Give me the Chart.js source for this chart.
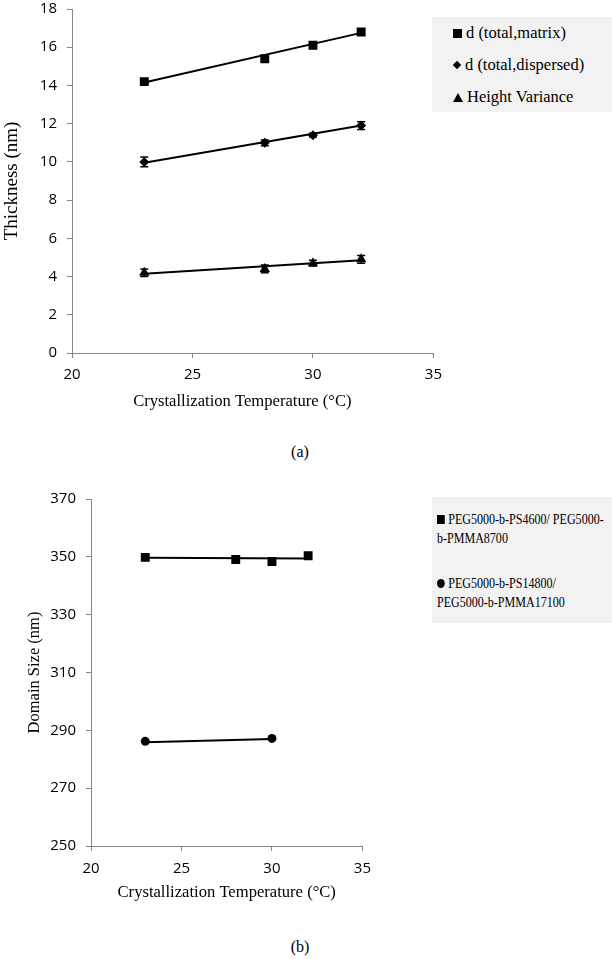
<!DOCTYPE html>
<html>
<head>
<meta charset="utf-8">
<script src="https://cdn.jsdelivr.net/npm/chart.js@4.4.1/dist/chart.umd.min.js"></script>
<style>
  body { margin: 0; background: #fff; width: 612px; height: 959px; position: relative; overflow: hidden; }
  canvas { position: absolute; left: 0; }
  #chartA { top: -10px; }
  #chartB { top: 480px; }
  .legend { position: absolute; background: #f2f2f2; font-family: "Liberation Serif", serif; color: #000; }
  .item { position: absolute; white-space: nowrap; }
  .la .item { font-size: 16.5px; line-height: 20px; }
  .lb .item { font-size: 14px; line-height: 19px; transform: scaleX(0.86); transform-origin: left center; }
  .mk { display: inline-block; background: #000; margin-right: 4px; vertical-align: middle; position: relative; top: -1px; }
  .sq { width: 9px; height: 9px; }
  .dm { width: 6px; height: 6px; transform: rotate(45deg); margin-left: 1px; margin-right: 5px; }
  .tr { width: 0; height: 0; background: none; border-left: 5px solid transparent; border-right: 5px solid transparent; border-bottom: 9px solid #000; }
  .ci { width: 9px; height: 9px; border-radius: 50%; }
  .cap { position: absolute; font-family: "Liberation Serif", serif; font-size: 16px; width: 40px; text-align: center; }
</style>
</head>
<body>
<canvas id="chartA" width="450" height="430"></canvas>
<canvas id="chartB" width="380" height="430"></canvas>

<div class="legend la" style="left:432px; top:17px; width:180px; height:95px;">
  <div class="item" style="left:21px; top:6px;"><span class="mk sq"></span>d (total,matrix)</div>
  <div class="item" style="left:21px; top:38px;"><span class="mk dm"></span>d (total,dispersed)</div>
  <div class="item" style="left:21px; top:70px;"><span class="mk tr"></span>Height Variance</div>
</div>

<div class="legend lb" style="left:432px; top:497px; width:180px; height:126px;">
  <div class="item" style="left:5px; top:13px;"><span class="mk sq"></span>PEG5000-b-PS4600/ PEG5000-<br>b-PMMA8700</div>
  <div class="item" style="left:5px; top:77px;"><span class="mk ci"></span>PEG5000-b-PS14800/<br>PEG5000-b-PMMA17100</div>
</div>

<div class="cap" style="left:280px; top:443px;">(a)</div>
<div class="cap" style="left:280px; top:938px;">(b)</div>

<script>
// (a) thickness vs crystallization temperature
const tempsA = [23, 28, 30, 32];
const matrix = [14.2, 15.4, 16.1, 16.8];
const matrixErr = [0.1, 0.15, 0.1, 0.1];
const dispersed = [10.0, 11.0, 11.4, 11.9];
const dispersedErr = [0.25, 0.15, 0.1, 0.2];
const heightVar = [4.2, 4.4, 4.7, 4.9];
const heightVarErr = [0.2, 0.2, 0.15, 0.2];
// trend lines (end points)
const trendX = [23, 32];
const matrixTrend = [14.15, 16.75];
const dispersedTrend = [9.95, 11.9];
const heightTrend = [4.15, 4.85];

// (b) domain size vs crystallization temperature
const tempsB1 = [23, 28, 30, 32];
const domain1 = [349.8, 349.1, 348.4, 350.4];
const tempsB2 = [23, 30];
const domain2 = [286.2, 287.2];
const domain1TrendX = [23, 32];
const domain1Trend = [349.7, 349.4];
const domain2TrendX = [23, 30];
const domain2Trend = [285.9, 287.0];

const tickFont = { family: "'Open Sans'", size: 15 };
const axisGray = '#868686';

function pts(xs, ys) {
    return xs.map((x, i) => ({ x: x, y: ys[i] }));
}

function markerSet(xs, ys, style, radius, errs) {
    return {
        data: pts(xs, ys),
        showLine: false,
        pointStyle: style,
        pointRadius: radius,
        pointBackgroundColor: '#000',
        pointBorderColor: '#000',
        pointBorderWidth: 0,
        errors: errs
    };
}

function trendSet(xs, ys) {
    return {
        data: pts(xs, ys),
        showLine: true,
        borderColor: '#000',
        borderWidth: 2,
        pointRadius: 0
    };
}

// draws vertical error bars with caps using the chart scales
const errorBars = {
    id: 'errorBars',
    afterDatasetsDraw(chart) {
        const ctx = chart.ctx;
        const ys = chart.scales.y;
        chart.data.datasets.forEach((ds, di) => {
            if (!ds.errors) return;
            const meta = chart.getDatasetMeta(di);
            ctx.save();
            ctx.strokeStyle = '#000';
            ctx.lineWidth = 1.5;
            meta.data.forEach((pt, i) => {
                const e = ds.errors[i];
                const v = ds.data[i].y;
                const top = ys.getPixelForValue(v + e);
                const bot = ys.getPixelForValue(v - e);
                ctx.beginPath();
                ctx.moveTo(pt.x, top); ctx.lineTo(pt.x, bot);
                ctx.moveTo(pt.x - 4, top); ctx.lineTo(pt.x + 4, top);
                ctx.moveTo(pt.x - 4, bot); ctx.lineTo(pt.x + 4, bot);
                ctx.stroke();
            });
            ctx.restore();
        });
    }
};

function makeOptions(o) {
    return {
        responsive: false,
        animation: false,
        layout: { padding: { top: o.padTop, right: o.padRight, left: 0, bottom: 0 } },
        plugins: { legend: { display: false }, tooltip: { enabled: false } },
        scales: {
            x: {
                type: 'linear', min: 20, max: 35,
                afterFit: s => { s.height = o.xHeight; },
                ticks: { stepSize: 5, font: tickFont, color: '#000', padding: o.xTickPad },
                grid: { drawOnChartArea: false, drawTicks: true, tickLength: 5, color: axisGray },
                border: { color: axisGray, width: 1 },
                title: {
                    display: true, text: o.xTitle, color: '#000',
                    font: { family: "'Liberation Serif'", size: 16.6 },
                    padding: { top: 0, bottom: o.xTitlePad }
                }
            },
            y: {
                type: 'linear', min: o.yMin, max: o.yMax,
                afterFit: s => { s.width = o.yWidth; },
                ticks: { stepSize: o.yStep, font: tickFont, color: '#000', padding: 10 },
                grid: { drawOnChartArea: false, drawTicks: true, tickLength: 5, color: axisGray },
                border: { color: axisGray, width: 1 },
                title: {
                    display: true, text: o.yTitle, color: '#000',
                    font: { family: "'Liberation Serif'", size: o.yTitleSize },
                    padding: { top: o.yTitlePad, bottom: 0 }
                }
            }
        }
    };
}

new Chart(document.getElementById('chartA'), {
    type: 'scatter',
    data: {
        datasets: [
            trendSet(trendX, matrixTrend),
            trendSet(trendX, dispersedTrend),
            trendSet(trendX, heightTrend),
            markerSet(tempsA, matrix, 'rect', 6.3, matrixErr),
            markerSet(tempsA, dispersed, 'rectRot', 5, dispersedErr),
            markerSet(tempsA, heightVar, 'triangle', 6, heightVarErr)
        ]
    },
    options: makeOptions({
        padTop: 17, padRight: 13, xHeight: 67, xTickPad: 8, xTitlePad: 8,
        // trailing spaces nudge the centred title a little to the left, as in the original
        xTitle: 'Crystallization Temperature (°C)     ',
        yMin: 0, yMax: 18, yStep: 2, yWidth: 72,
        yTitle: 'Thickness (nm)', yTitleSize: 19, yTitlePad: 1
    }),
    plugins: [errorBars]
});

new Chart(document.getElementById('chartB'), {
    type: 'scatter',
    data: {
        datasets: [
            trendSet(domain1TrendX, domain1Trend),
            trendSet(domain2TrendX, domain2Trend),
            markerSet(tempsB1, domain1, 'rect', 6.3, null),
            markerSet(tempsB2, domain2, 'circle', 4.5, null)
        ]
    },
    options: makeOptions({
        padTop: 18, padRight: 15, xHeight: 64, xTickPad: 9, xTitlePad: 7,
        xTitle: 'Crystallization Temperature (°C)',
        yMin: 250, yMax: 370, yStep: 20, yWidth: 91,
        yTitle: 'Domain Size (nm)', yTitleSize: 16.5, yTitlePad: 25
    }),
    plugins: [errorBars]
});
</script>
</body>
</html>
